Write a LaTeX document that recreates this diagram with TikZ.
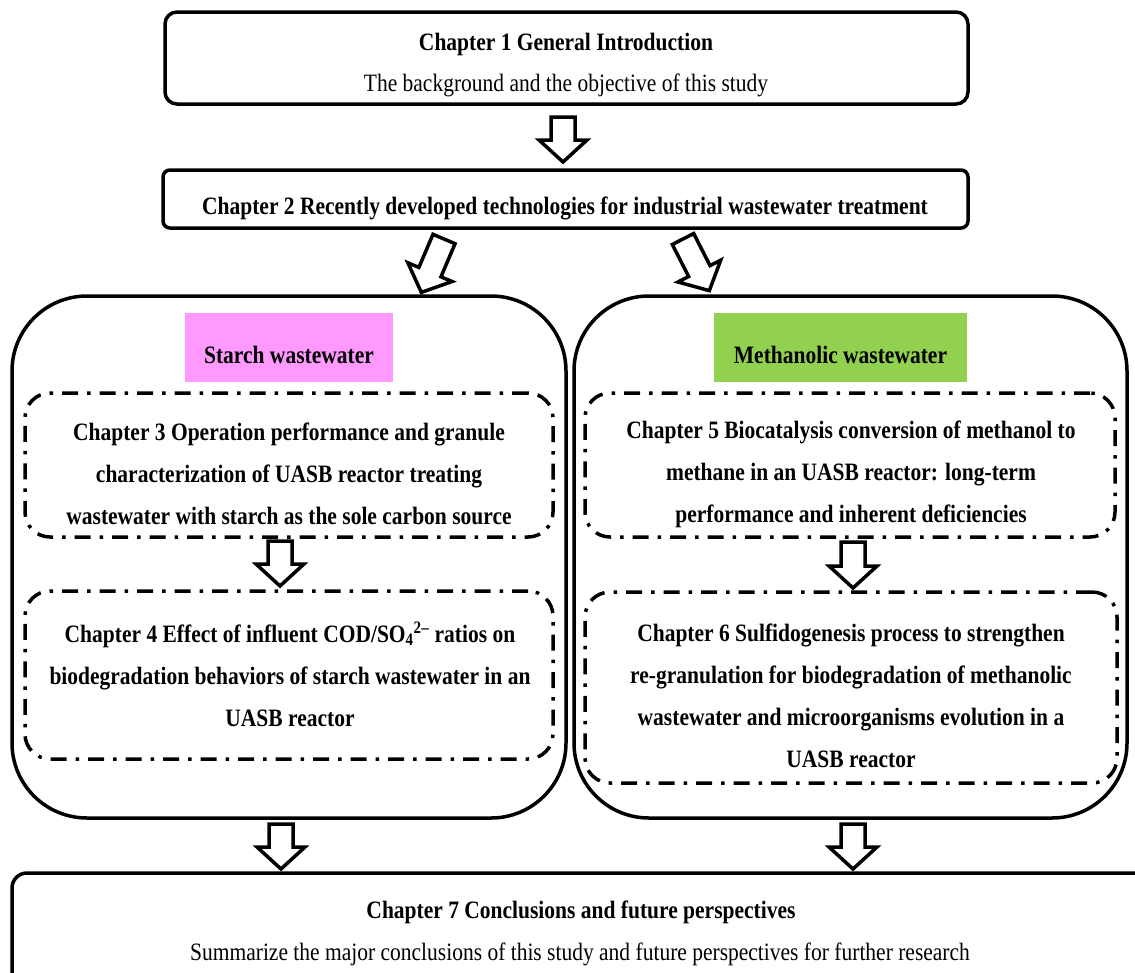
\documentclass[tikz,border=0pt]{standalone}
\usepackage{fontspec}
\setmainfont{Liberation Serif}[FakeStretch=0.86]
\definecolor{pinkfill}{HTML}{FF99FF}
\definecolor{greenfill}{HTML}{92D050}
\begin{document}
\begin{tikzpicture}[x=1pt,y=-1pt,
  frame/.style={draw, line width=3.5pt, inner sep=0pt},
  smallround/.style={frame, rounded corners=12pt},
  biground/.style={frame, rounded corners=75pt},
  dashbox/.style={draw, line width=3.5pt, inner sep=0pt, rounded corners=25pt,
    dash pattern=on 16pt off 9pt on 3.5pt off 9pt},
  tag/.style={inner sep=0pt, draw=none},
  boldtext/.style={font=\bfseries\fontsize{25}{42}\selectfont, align=center, inner sep=0pt},
  plaintext/.style={font=\fontsize{25}{42}\selectfont, align=center, inner sep=0pt},
  arrowline/.style={draw, line width=3.5pt, line join=miter, fill=white},
  pics/harrow/.style={code={
    \path[arrowline] (-12,0) -- (12,0) -- (12,#1-22) -- (24,#1-22) -- (0,#1)
      -- (-24,#1-22) -- (-12,#1-22) -- cycle;}}
]
\useasboundingbox (0,0) rectangle (1135,972);

% Chapter 1
\node[smallround, minimum width=803pt, minimum height=92pt] (b1) at (566.5,58) {};
\node[boldtext, anchor=base] (b1t) at (566,50) {Chapter 1 General Introduction};
\node[plaintext, anchor=base] (b1s) at (566,91) {The background and the objective of this study};

% Chapter 2
\node[frame, rounded corners=7pt, minimum width=805pt, minimum height=58pt] (b2) at (565.5,199) {};
\node[boldtext, anchor=base] (b2t) at (565,214) {Chapter 2 Recently developed technologies for industrial wastewater treatment};

% big boxes
\node[biground, minimum width=554pt, minimum height=522pt] (left) at (289,557) {};
\node[biground, minimum width=553pt, minimum height=522pt] (right) at (850.5,557) {};

% tags
\node[tag, fill=pinkfill, minimum width=208pt, minimum height=69pt] (pink) at (289,347.5) {};
\node[boldtext, anchor=base] (pinkt) at (289,363) {Starch wastewater};
\node[tag, fill=greenfill, minimum width=253pt, minimum height=69pt] (green) at (840.5,347.5) {};
\node[boldtext, anchor=base] (greent) at (840.5,363) {Methanolic wastewater};

% dash boxes
\node[dashbox, minimum width=528pt, minimum height=144pt] (d3) at (289,465) {};
\node[boldtext] (d3t) at (289,474) {Chapter 3 Operation performance and granule\\characterization of UASB reactor treating\\wastewater with starch as the sole carbon source};

\node[dashbox, minimum width=528pt, minimum height=168pt] (d4) at (289,675) {};
\node[boldtext] (d4t) at (290,674) {Chapter 4 Effect of influent COD/SO\textsubscript{4}\textsuperscript{2–} ratios on\\biodegradation behaviors of starch wastewater in an\\UASB reactor};

\node[dashbox, minimum width=530pt, minimum height=144pt] (d5) at (850,465) {};
\node[boldtext] (d5t) at (851,474) {Chapter 5 Biocatalysis conversion of methanol to\\methane in an UASB reactor: long-term\\performance and inherent deficiencies};

\node[dashbox, minimum width=532pt, minimum height=191pt] (d6) at (851,687.5) {};
\node[boldtext] (d6t) at (851,696) {Chapter 6 Sulfidogenesis process to strengthen\\re-granulation for biodegradation of methanolic\\wastewater and microorganisms evolution in a\\UASB reactor};

% Chapter 7
\node[smallround, rounded corners=15pt, minimum width=1140pt, minimum height=125pt] (b7) at (582,935.5) {};
\node[boldtext, anchor=base] (b7t) at (581,918) {Chapter 7 Conclusions and future perspectives};
\node[plaintext, anchor=base] (b7s) at (580,960) {Summarize the major conclusions of this study and future perspectives for further research};

% block arrows
\pic at (563,117) {harrow=45};
\pic[rotate=-23] at (444,239) {harrow=58};
\pic[rotate=27] at (683,239) {harrow=58};
\pic at (280,541) {harrow=45};
\pic at (853,542) {harrow=46};
\pic at (281,824) {harrow=45};
\pic at (853,824) {harrow=45};
\end{tikzpicture}
\end{document}
